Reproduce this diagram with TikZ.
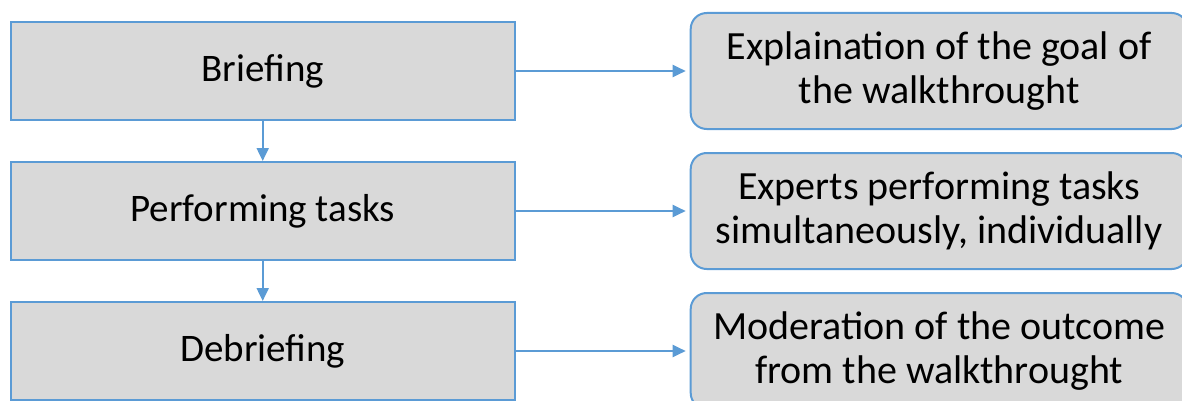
\documentclass[tikz,border=0pt]{standalone}
\usepackage{fontspec}
\setmainfont{Carlito}
\usetikzlibrary{arrows.meta,positioning}
\definecolor{boxblue}{RGB}{91,155,213}
\definecolor{boxgray}{RGB}{217,217,217}
\tikzset{
	stage/.style={draw=boxblue, fill=boxgray, line width=2pt, minimum width=504pt, minimum height=98pt, font=\fontsize{39}{44}\selectfont},
	detail/.style={draw=boxblue, fill=boxgray, line width=2pt, rounded corners=16pt, minimum width=497pt, minimum height=116pt, align=center, font=\fontsize{40}{44}\selectfont},
	link/.style={draw=boxblue, line width=2pt, -{Triangle[length=13pt,width=12pt]}}
}

\begin{document}
\begin{tikzpicture}[x=1pt,y=1pt]
				\useasboundingbox (0,0) rectangle (1182,400);
				
				\node[stage] (brief) at (262.7,329) {Briefing};
				\node[stage, below=40pt of brief] (perform) {Performing tasks};
				\node[stage, below=40pt of perform] (debrief) {Debriefing};
				
				\node[detail, right=174pt of brief] (goal) {Explaination of the goal of\\the walkthrought};
				\node[detail, right=174pt of perform] (experts) {Experts performing tasks\\simultaneously, individually};
				\node[detail, right=174pt of debrief] (outcome) {Moderation of the outcome\\from the walkthrought};
				
				\draw[link] (brief) -- (perform);
				\draw[link] (perform) -- (debrief);
				
				\draw[link, shorten >=4pt] (brief.east) -- (goal.west |- brief.east);
				\draw[link, shorten >=4pt] (perform.east) -- (experts.west |- perform.east);
				\draw[link, shorten >=4pt] (debrief.east) -- (outcome.west |- debrief.east);
			\end{tikzpicture}
\end{document}
